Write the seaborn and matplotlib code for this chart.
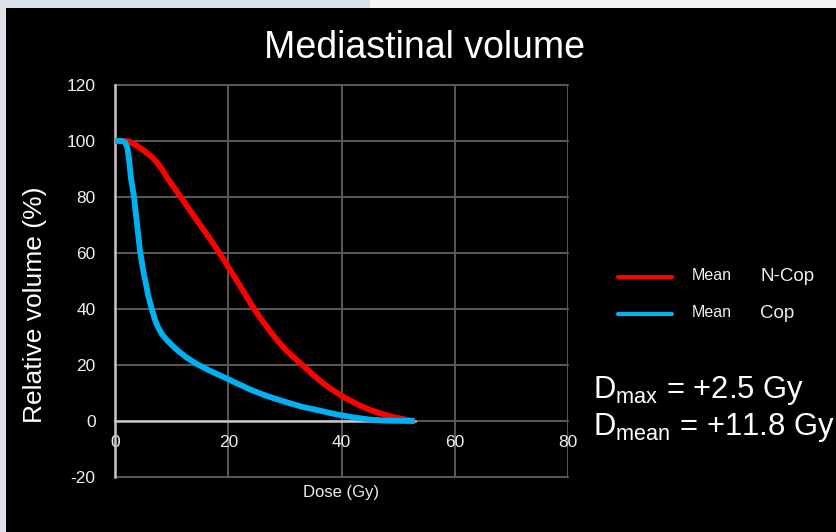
import matplotlib
matplotlib.use("Agg")
import matplotlib.pyplot as plt
from matplotlib.lines import Line2D
from matplotlib.patches import Rectangle
import seaborn as sns
import pandas as pd

# Mean dose-volume histograms for the mediastinum
ncop_dose = [0, 2.3, 3.5, 5.0, 6.5, 7.3, 8.0, 8.7, 9.5, 10.9, 12.3, 13.8, 15.3, 16.8, 18.3,
             19.7, 21.1, 22.6, 24.1, 25.6, 27.4, 29.0, 30.3, 31.8, 33.2, 34.7, 36.2,
             37.6, 39.1, 40.6, 42.1, 43.5, 45.0, 46.5, 47.9, 49.4, 50.9, 52.2, 53.0]
ncop_vol = [100, 100, 98.7, 96.8, 94.3, 92.6, 90.8, 88.6, 86.0, 82.0, 78.0, 73.6, 69.3, 65.0,
            60.5, 56.0, 51.5, 46.5, 41.5, 37.0, 32.0, 28.0, 25.1, 22.3, 19.8, 17.0, 14.4,
            12.2, 10.2, 8.3, 6.7, 5.3, 4.0, 3.0, 2.1, 1.3, 0.7, 0.2, 0.0]

cop_dose = [0, 1.2, 1.8, 2.2, 2.5, 2.8, 3.35, 3.8, 4.4, 5.0, 5.9, 6.5, 7.0, 7.6, 8.3, 9.2,
            10.2, 11.3, 12.7, 14.4, 16.5, 19.7, 22.0, 24.4, 27.0, 30.3, 33.0, 36.2,
            39.0, 42.1, 45.0, 47.9, 52.9]
cop_vol = [100, 100, 99.5, 97.5, 93.0, 87.0, 80.0, 72.0, 61.0, 53.5, 44.5, 40.0, 36.5,
           33.5, 31.0, 28.8, 26.8, 24.8, 22.6, 20.4, 18.2, 15.2, 13.0, 10.8, 8.8, 6.7,
           5.1, 3.7, 2.4, 1.3, 0.5, 0.1, 0.0]

groups = ["N-Cop", "Cop"]
colors = {"N-Cop": "#FF0000", "Cop": "#00B0F0"}

x_ticks = [0, 20, 40, 60, 80]
y_ticks = [-20, 0, 20, 40, 60, 80, 100, 120]

df = pd.concat([
    pd.DataFrame({"dose": ncop_dose, "volume": ncop_vol, "group": "N-Cop"}),
    pd.DataFrame({"dose": cop_dose, "volume": cop_vol, "group": "Cop"}),
], ignore_index=True)

sns.set_theme(style="dark")
plt.rcParams["font.family"] = ["Liberation Sans", "DejaVu Sans"]

fig = plt.figure(figsize=(8.36, 5.32), dpi=100, facecolor="black")
# slide frame strips
fig.add_artist(Rectangle((0, 0), 6 / 836, 1, transform=fig.transFigure,
                         facecolor="#dde2ea", edgecolor="none", zorder=0))
fig.add_artist(Rectangle((0, 1 - 8 / 532), 370 / 836, 8 / 532, transform=fig.transFigure,
                         facecolor="#dde2ea", edgecolor="none", zorder=0))
fig.add_artist(Rectangle((370 / 836, 1 - 8 / 532), 466 / 836, 8 / 532,
                         transform=fig.transFigure,
                         facecolor="#f3f4f6", edgecolor="none", zorder=0))

ax = fig.add_axes([115 / 836, 1 - 477 / 532, 453 / 836, 392 / 532])
ax.set_facecolor("black")

sns.lineplot(data=df, x="dose", y="volume", hue="group", hue_order=groups,
             palette=colors, estimator=None, sort=False, legend=False,
             linewidth=4.2, ax=ax)
for ln in ax.lines:
    ln.set_solid_capstyle("butt")
    ln.set_solid_joinstyle("round")
    ln.set_zorder(3)

ax.set_xlim(0, 80)
ax.set_ylim(-20, 120)
ax.set_xticks(x_ticks)
ax.set_yticks(y_ticks)
ax.set_xticklabels([str(v) for v in x_ticks])
ax.set_yticklabels([str(v) for v in y_ticks])
ax.set_xlabel("")
ax.set_ylabel("")

ax.grid(True, color="#5a5a5a", linewidth=1.4)
for gl in ax.get_xgridlines() + ax.get_ygridlines():
    gl.set_clip_on(False)
ax.set_axisbelow(True)

for side in ["top", "right"]:
    ax.spines[side].set_visible(False)
ax.spines["left"].set_color("#c8c8c8")
ax.spines["left"].set_linewidth(1.8)
ax.spines["bottom"].set_position(("data", 0))
ax.spines["bottom"].set_color("#c8c8c8")
ax.spines["bottom"].set_linewidth(1.8)
ax.spines["bottom"].set_bounds(0, max(max(ncop_dose), max(cop_dose)))
ax.spines["left"].set_zorder(2.5)
ax.spines["bottom"].set_zorder(2.5)

ax.tick_params(axis="both", length=0, labelsize=12.5, labelcolor="#eeeeee")
ax.tick_params(axis="x", pad=10)
ax.tick_params(axis="y", pad=14)

fig.text(341 / 836, 1 - 493 / 532, "Dose (Gy)", color="#eeeeee", fontsize=12,
         ha="center", va="center")
fig.text(35 / 836, 1 - 305 / 532, "Relative volume (%)", color="white", fontsize=19,
         rotation=90, ha="center", va="center")
fig.text(424 / 836, 1 - 48 / 532, "Mediastinal volume", color="white", fontsize=27,
         ha="center", va="center")

# legend
for y_px, grp in [(276.5, "N-Cop"), (314, "Cop")]:
    yf = 1 - y_px / 532
    fig.add_artist(Line2D([618 / 836, 672 / 836], [yf, yf], transform=fig.transFigure,
                          color=colors[grp], linewidth=3.0))
    fig.text(692 / 836, yf + 1.5 / 532, "Mean", color="#eeeeee", fontsize=11.5,
             ha="left", va="center")
    fig.text(760 / 836, yf, grp, color="#eeeeee", fontsize=13.5, ha="left", va="center")

# dose differences
fig.text(593 / 836, 1 - 398 / 532, r"D$_{\mathregular{max}}$ = +2.5 Gy", color="white",
         fontsize=22.3, ha="left", va="baseline")
fig.text(593 / 836, 1 - 435 / 532, r"D$_{\mathregular{mean}}$ = +11.8 Gy", color="white",
         fontsize=22.3, ha="left", va="baseline")

fig.savefig("out.png", dpi=100, facecolor="black")
